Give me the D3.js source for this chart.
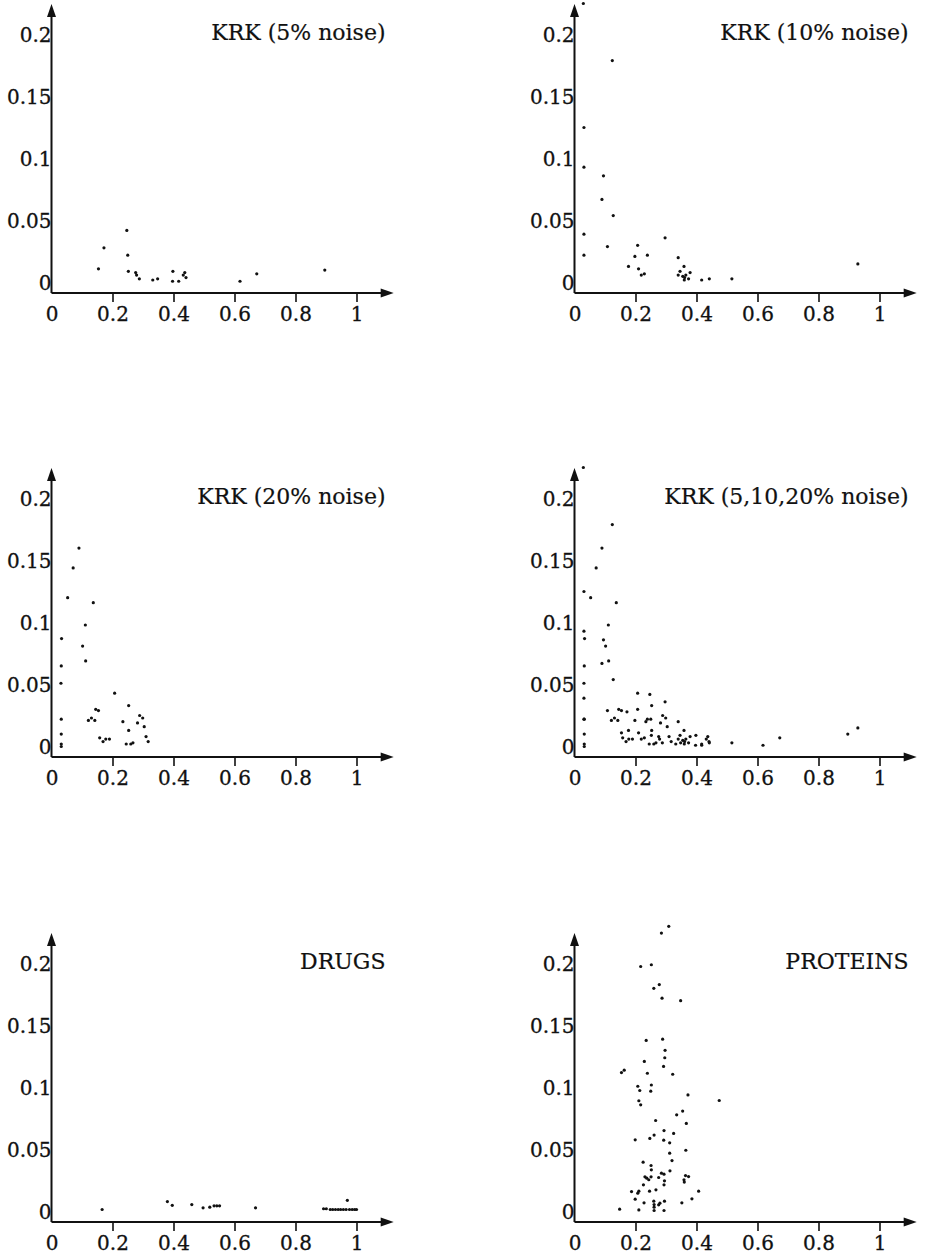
<!DOCTYPE html>
<html>
<head>
<meta charset="utf-8">
<script src="https://cdn.jsdelivr.net/npm/d3@7"></script>
<style>
  body { margin: 0; background: #fff; }
</style>
</head>
<body>
<div id="chart-area"></div>
<script>
/*
*    main.js  - six noise scatter panels
*/

// tick values and labels
var xTicks = [0, 0.2, 0.4, 0.6, 0.8, 1];
var xTickLabels = ["0", "0.2", "0.4", "0.6", "0.8", "1"];
var yTicks = [0, 0.05, 0.1, 0.15, 0.2];
var yTickLabels = ["0", "0.05", "0.1", "0.15", "0.2"];

var titles = ["KRK (5% noise)", "KRK (10% noise)", "KRK (20% noise)",
	"KRK (5,10,20% noise)", "DRUGS", "PROTEINS"];

// [x, y] pairs
var krk5 = [[0.154,0.011],[0.172,0.028],[0.247,0.042],[0.250,0.022],[0.252,0.009],
	[0.276,0.008],[0.279,0.006],[0.288,0.003],[0.332,0.002],[0.348,0.003],
	[0.398,0.009],[0.397,0.001],[0.417,0.001],[0.432,0.006],[0.437,0.008],
	[0.441,0.004],[0.618,0.001],[0.673,0.007],[0.896,0.010]];

var krk10 = [[0.029,0.225],[0.124,0.179],[0.031,0.125],[0.031,0.093],[0.095,0.086],
	[0.090,0.067],[0.127,0.054],[0.031,0.039],[0.108,0.029],[0.031,0.022],
	[0.207,0.030],[0.297,0.036],[0.198,0.021],[0.239,0.022],[0.177,0.013],
	[0.210,0.011],[0.219,0.006],[0.229,0.007],[0.340,0.020],[0.346,0.009],
	[0.340,0.006],[0.359,0.013],[0.355,0.005],[0.361,0.004],[0.365,0.006],
	[0.374,0.003],[0.379,0.008],[0.360,0.002],[0.417,0.002],[0.442,0.003],
	[0.516,0.003],[0.929,0.015]];

var krk20 = [[0.090,0.160],[0.071,0.144],[0.053,0.120],[0.137,0.116],[0.111,0.098],
	[0.033,0.087],[0.102,0.081],[0.112,0.069],[0.032,0.065],[0.031,0.051],
	[0.207,0.043],[0.253,0.033],[0.145,0.030],[0.154,0.029],[0.121,0.021],
	[0.131,0.023],[0.142,0.021],[0.032,0.022],[0.234,0.020],[0.289,0.025],
	[0.299,0.023],[0.282,0.019],[0.304,0.016],[0.253,0.013],[0.032,0.010],
	[0.158,0.007],[0.178,0.006],[0.190,0.006],[0.169,0.004],[0.310,0.008],
	[0.317,0.004],[0.032,0.002],[0.032,0.000],[0.245,0.002],[0.260,0.002],
	[0.267,0.003]];

var drugs = [[0.166,0.0016],[0.380,0.008],[0.396,0.005],[0.460,0.0056],[0.497,0.003],
	[0.519,0.0035],[0.533,0.0046],[0.542,0.0046],[0.551,0.0046],[0.669,0.003],
	[0.892,0.0022],[0.901,0.0022],[0.914,0.0016],[0.922,0.0016],[0.931,0.0016],
	[0.940,0.0016],[0.948,0.0016],[0.957,0.0016],[0.966,0.0016],[0.977,0.0016],
	[0.986,0.0016],[0.994,0.0016],[1.0,0.0016],[0.970,0.009]];

var proteins = [[0.309,0.230],[0.285,0.2245],[0.252,0.199],[0.217,0.1976],[0.278,0.183],
	[0.260,0.180],[0.287,0.172],[0.348,0.170],[0.289,0.139],[0.235,0.138],
	[0.297,0.130],[0.296,0.124],[0.229,0.121],[0.292,0.117],[0.163,0.114],
	[0.154,0.112],[0.239,0.1115],[0.322,0.1107],[0.2075,0.101],[0.252,0.102],
	[0.214,0.0976],[0.250,0.097],[0.372,0.094],[0.4745,0.0895],[0.211,0.0893],
	[0.217,0.086],[0.3546,0.081],[0.335,0.078],[0.266,0.0734],[0.3667,0.071],
	[0.2935,0.0653],[0.325,0.063],[0.261,0.0616],[0.247,0.0589],[0.199,0.0578],
	[0.2925,0.0575],[0.312,0.0554],[0.365,0.0494],[0.312,0.047],[0.3197,0.0411],
	[0.225,0.0398],[0.251,0.0371],[0.252,0.0336],[0.313,0.0328],[0.285,0.0309],
	[0.2935,0.0301],[0.364,0.029],[0.374,0.0282],[0.231,0.028],[0.237,0.0269],
	[0.251,0.028],[0.276,0.0274],[0.2435,0.0256],[0.359,0.0256],[0.295,0.0247],
	[0.360,0.0237],[0.2935,0.0215],[0.226,0.0215],[0.407,0.0164],[0.187,0.0161],
	[0.211,0.0164],[0.2075,0.0148],[0.246,0.0164],[0.267,0.0175],[0.199,0.0099],
	[0.385,0.0102],[0.228,0.007],[0.260,0.0083],[0.295,0.0083],[0.352,0.007],
	[0.261,0.0056],[0.276,0.0054],[0.280,0.0067],[0.148,0.0019],[0.211,0.0013],
	[0.261,0.0008],[0.2935,0.0008],[0.261,0.0035]];

var datasets = [krk5, krk10, krk20, krk5.concat(krk10, krk20), drugs, proteins];

var width = 925;
var height = 1256;
var ink = "#111";
var font = "'DejaVu Serif', serif";

// panel origins: y axis x position, x axis y position
var colX = [51.5, 574.5];
var rowY = [293, 757, 1222];
var axisGap = 10.5;   // x axis sits a little below y = 0

var x = d3.scaleLinear().domain([0, 1]).range([0, 305]);
var y = d3.scaleLinear().domain([0, 0.2]).range([0, -248]);
var xEnd = x(1.122);
var yTop = -278.5;

var svg = d3.select("#chart-area").append("svg").attr("width", width).attr("height", height);

datasets.forEach((data, i) => {
	var ox = colX[i % 2];
	var oy = rowY[Math.floor(i / 2)] - axisGap;
	var g = svg.append("g").attr("transform", "translate(" + ox + "," + oy + ")");

	// x axis ticks + labels
	var xAxis = d3.axisBottom(x).tickValues(xTicks).tickSize(9).tickPadding(5)
		.tickFormat((d, j) => xTickLabels[j]);
	var xg = g.append("g").attr("transform", "translate(0," + axisGap + ")").call(xAxis);
	xg.select(".domain").remove();
	xg.selectAll(".tick line").attr("stroke", ink).attr("stroke-width", 1.6)
		.filter((d) => d === 0).remove();
	xg.selectAll(".tick text").attr("fill", ink).attr("font-family", font).attr("font-size", 20)
		.attr("stroke", ink).attr("stroke-width", 0.3);

	// y axis labels
	var yAxis = d3.axisLeft(y).tickValues(yTicks).tickSize(0).tickPadding(0)
		.tickFormat((d, j) => yTickLabels[j]);
	var yg = g.append("g").call(yAxis);
	yg.select(".domain").remove();
	yg.selectAll(".tick text").attr("fill", ink).attr("font-family", font).attr("font-size", 20)
		.attr("stroke", ink).attr("stroke-width", 0.3).attr("dy", "0.36em");

	// axis lines with arrow heads
	g.append("line").attr("x1", 0).attr("y1", axisGap).attr("x2", xEnd - 8).attr("y2", axisGap)
		.attr("stroke", ink).attr("stroke-width", 2);
	g.append("path").attr("d", "M" + xEnd + "," + axisGap + "L" + (xEnd - 13) + "," + (axisGap - 4.5)
		+ "L" + (xEnd - 13) + "," + (axisGap + 4.5) + "Z").attr("fill", ink);
	g.append("line").attr("x1", 0).attr("y1", axisGap).attr("x2", 0).attr("y2", yTop + 8)
		.attr("stroke", ink).attr("stroke-width", 2);
	g.append("path").attr("d", "M0," + yTop + "L-4.5," + (yTop + 13) + "L4.5," + (yTop + 13) + "Z")
		.attr("fill", ink);

	g.append("text").attr("x", 334).attr("y", axisGap - 253).attr("text-anchor", "end")
		.attr("font-family", font).attr("font-size", 22).attr("fill", ink)
		.attr("stroke", ink).attr("stroke-width", 0.2).text(titles[i]);

	g.selectAll("circle").data(data).enter().append("circle")
		.attr("cx", (d) => x(d[0]))
		.attr("cy", (d) => y(d[1]))
		.attr("r", 1.6)
		.attr("fill", ink);
});
</script>
</body>
</html>
